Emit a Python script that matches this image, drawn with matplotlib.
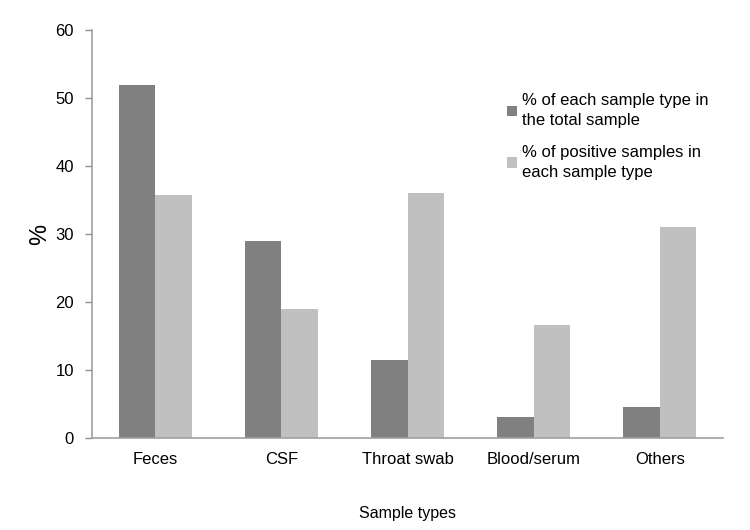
import matplotlib
matplotlib.use('Agg')
import matplotlib.pyplot as plt
import numpy as np

plt.rcParams['font.family'] = ['Liberation Sans', 'DejaVu Sans']

categories = ['Feces', 'CSF', 'Throat swab', 'Blood/serum', 'Others']
share_total = [52, 29, 11.4, 3, 4.6]
share_positive = [35.7, 19, 36, 16.6, 31.1]
labels = ['% of each sample type in\nthe total sample',
          '% of positive samples in\neach sample type']

fig = plt.figure(figsize=(7.5, 5.3), dpi=100)
ax = fig.add_axes([0.1227, 0.174, 0.8413, 0.769])

x = np.arange(len(categories))
w = 0.29
ax.bar(x - w / 2, share_total, w, color='#808080', label=labels[0])
ax.bar(x + w / 2, share_positive, w, color='#c0c0c0', label=labels[1])

ax.set_xlim(-0.5, len(categories) - 0.5)
ax.set_ylim(0, 60)
ax.set_yticks(range(0, 61, 10))
ax.set_xticks(x)
ax.set_xticklabels(categories)
ax.tick_params(axis='x', length=0, pad=10, labelsize=12)
ax.tick_params(axis='y', length=5, width=1, color='#909090', pad=8, labelsize=12)

for s in ['top', 'right']:
    ax.spines[s].set_visible(False)
for s in ['left', 'bottom']:
    ax.spines[s].set_color('#a0a0a0')
    ax.spines[s].set_linewidth(1.2)

ax.set_ylabel('%', fontsize=17, labelpad=3)
ax.set_xlabel('Sample types', fontsize=11.5, labelpad=28)

leg = ax.legend(loc='upper left', bbox_to_anchor=(0.656, 0.852), bbox_transform=fig.transFigure,
                frameon=False, fontsize=12, handlelength=0.6, handleheight=0.6,
                handletextpad=0.3, labelspacing=1.0)
for t in leg.get_texts():
    t.set_linespacing(1.4)

fig.savefig('out.png', dpi=100)
